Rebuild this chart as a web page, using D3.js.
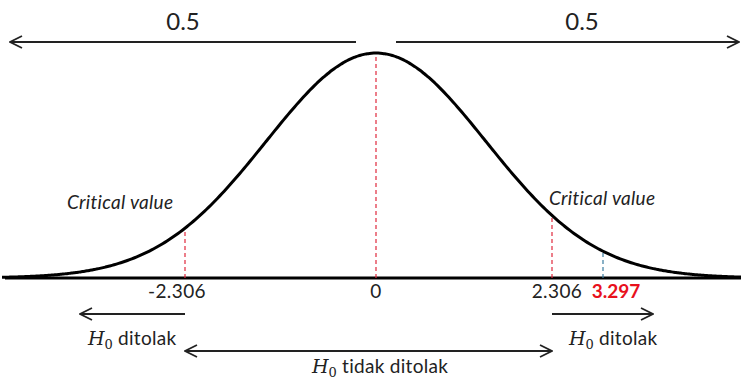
<!DOCTYPE html>
<html>
<head>
<meta charset="utf-8">
<script src="https://cdn.jsdelivr.net/npm/d3@7"></script>
<style>
    body { margin: 0; background: #fff; }
    text { font-family: Lato, "Open Sans", sans-serif; fill: #222; }
</style>
</head>
<body>
<div id="chart"></div>
<script>
// values
const criticalValues = [-2.306, 2.306];
const centerValue = 0;
const testValue = 3.297;
const tickLabels = ["-2.306", "0", "2.306"];
const halfLabels = ["0.5", "0.5"];
const regionLabels = ["ditolak", "tidak ditolak", "ditolak"];

const width = 741, height = 380;
const baseY = 278, peakY = 53;

const svg = d3.select("#chart").append("svg")
    .attr("width", width)
    .attr("height", height);

// marker scale (the sketch is not drawn to scale, so it is piecewise)
let x = d3.scaleLinear()
    .domain([criticalValues[0], centerValue, criticalValues[1], testValue])
    .range([185, 376, 552, 603]);

// curve scale: z units of the bell
let z = d3.scaleLinear()
    .domain([-3.4, 3.4])
    .range([376 - 3.4 * 110, 376 + 3.4 * 110]);

let y = d3.scaleLinear()
    .domain([0, 1])
    .range([baseY, peakY]);

let dens = v => Math.exp(-v * v / 2);
let curveAt = v => y(dens(z.invert(x(v))));

// arrow marker
let defs = svg.append("defs");
defs.append("marker")
    .attr("id", "arr")
    .attr("viewBox", "0 0 14 14")
    .attr("refX", 13).attr("refY", 7)
    .attr("markerWidth", 14).attr("markerHeight", 14)
    .attr("markerUnits", "userSpaceOnUse")
    .attr("orient", "auto-start-reverse")
    .append("path")
    .attr("d", "M1,1 L13,7 L1,13")
    .attr("fill", "none")
    .attr("stroke", "#222")
    .attr("stroke-width", 1.8);

// baseline
svg.append("line")
    .attr("x1", 5).attr("x2", width)
    .attr("y1", baseY).attr("y2", baseY)
    .attr("stroke", "#000")
    .attr("stroke-width", 3.2);

// dashed guides
svg.append("line")
    .attr("x1", x(centerValue)).attr("x2", x(centerValue))
    .attr("y1", baseY).attr("y2", curveAt(centerValue) + 2)
    .attr("stroke", "#e0283c").attr("stroke-width", 1.2)
    .attr("stroke-dasharray", "4,3");

criticalValues.forEach(c => {
    svg.append("line")
        .attr("x1", x(c)).attr("x2", x(c))
        .attr("y1", baseY).attr("y2", curveAt(c))
        .attr("stroke", "#e0283c").attr("stroke-width", 1.2)
        .attr("stroke-dasharray", "4,3");
});

svg.append("line")
    .attr("x1", x(testValue)).attr("x2", x(testValue))
    .attr("y1", baseY).attr("y2", curveAt(testValue))
    .attr("stroke", "#3a7ca0").attr("stroke-width", 1.2)
    .attr("stroke-dasharray", "4,3");

// bell curve
let zs = d3.range(-3.4, 3.401, 0.02);
svg.append("path")
    .datum(zs)
    .attr("d", d3.line().x(d => z(d)).y(d => y(dens(d))).curve(d3.curveBasis))
    .attr("fill", "none")
    .attr("stroke", "#000")
    .attr("stroke-width", 3);

// top arrows with 0.5
svg.append("line")
    .attr("x1", 356).attr("x2", 10)
    .attr("y1", 42).attr("y2", 42)
    .attr("stroke", "#222").attr("stroke-width", 1.8)
    .attr("marker-end", "url(#arr)");
svg.append("line")
    .attr("x1", 396).attr("x2", 739)
    .attr("y1", 42).attr("y2", 42)
    .attr("stroke", "#222").attr("stroke-width", 1.8)
    .attr("marker-end", "url(#arr)");

[183, 582].forEach((cx, i) => {
    svg.append("text")
        .attr("x", cx).attr("y", 30)
        .attr("text-anchor", "middle")
        .style("font-size", "24px")
        .text(halfLabels[i]);
});

// critical value labels
svg.append("text")
    .attr("x", 67).attr("y", 209)
    .style("font-size", "19px").style("font-style", "italic")
    .style("letter-spacing", "0.3px")
    .text("Critical value");
svg.append("text")
    .attr("x", 549).attr("y", 205)
    .style("font-size", "19px").style("font-style", "italic")
    .style("letter-spacing", "0.3px")
    .text("Critical value");

// tick labels
let tickVals = [criticalValues[0], centerValue, criticalValues[1]];
let tickOffsets = [-8, 0, 5];
tickVals.forEach((v, i) => {
    svg.append("text")
        .attr("x", x(v) + tickOffsets[i]).attr("y", 298)
        .attr("text-anchor", "middle")
        .style("font-size", "19px")
        .style("letter-spacing", "0.4px")
        .text(tickLabels[i]);
});
svg.append("text")
    .attr("x", x(testValue) + 13).attr("y", 298)
    .attr("text-anchor", "middle")
    .style("font-size", "19px")
    .style("font-weight", "bold")
    .style("fill", "#e8101c")
    .text(d3.format(".3f")(testValue));

// region arrows
svg.append("line")
    .attr("x1", x(criticalValues[0])).attr("x2", 80)
    .attr("y1", 314).attr("y2", 314)
    .attr("stroke", "#222").attr("stroke-width", 1.8)
    .attr("marker-end", "url(#arr)");
svg.append("line")
    .attr("x1", x(criticalValues[1])).attr("x2", 653)
    .attr("y1", 314).attr("y2", 314)
    .attr("stroke", "#222").attr("stroke-width", 1.8)
    .attr("marker-end", "url(#arr)");
svg.append("line")
    .attr("x1", x(criticalValues[0])).attr("x2", x(criticalValues[1]))
    .attr("y1", 351).attr("y2", 351)
    .attr("stroke", "#222").attr("stroke-width", 1.8)
    .attr("marker-start", "url(#arr)")
    .attr("marker-end", "url(#arr)");

function h0Label(px, py, word) {
    let t = svg.append("text")
        .attr("x", px).attr("y", py)
        .style("font-size", "19px");
    t.append("tspan")
        .style("font-family", "'DejaVu Serif', serif")
        .style("font-style", "italic")
        .text("H");
    t.append("tspan")
        .attr("dy", 4)
        .style("font-family", "'DejaVu Serif', serif")
        .style("font-size", "13px")
        .text("0");
    t.append("tspan")
        .attr("dy", -4)
        .style("letter-spacing", "0.3px")
        .text("\u00a0" + word);
}

h0Label(88, 345, regionLabels[0]);
h0Label(312, 373, regionLabels[1]);
h0Label(569, 345, regionLabels[2]);
</script>
</body>
</html>
